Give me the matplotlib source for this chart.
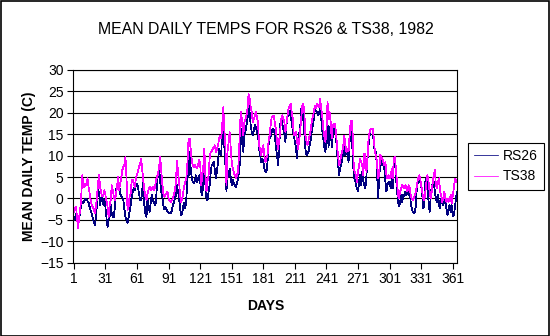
import matplotlib
matplotlib.use('Agg')
import matplotlib.pyplot as plt
from matplotlib.patches import Rectangle

plt.rcParams['font.family'] = ['Liberation Sans', 'DejaVu Sans']

# mean daily temperature (C), one value per day of 1982
rs26 = [
    -5.0, -4.8, -3.5, -4.2, -5.8, -5.0, -3.0, -1.5, -0.8, -1.2,
    -0.5, 0.0, -0.3, -0.6, -1.0, -2.0, -2.8, -3.5, -4.5, -5.5,
    -6.2, -4.5, -1.0, 1.9, 1.2, -1.5, 0.2, 0.8, -1.5, -0.3,
    -2.0, -4.5, -6.6, -5.0, -4.2, -1.5, -3.5, -4.3, -4.3, -2.0,
    1.9, 2.7, 3.0, 3.5, 1.2, 0.5, 0.2, -0.3, -2.5, -4.2,
    -5.0, -5.8, -4.5, -3.0, -1.5, 0.2, 1.5, 2.5, 2.0, 3.0,
    3.5, 2.5, 1.0, -0.5, -0.4, 2.0, 3.9, -1.5, -3.5, -4.3,
    0.0, -1.6, -3.1, -1.0, 0.8, -0.5, -0.8, -1.6, -1.0, 3.5,
    5.8, 7.0, 4.0, 1.6, 0.5, -1.5, -2.5, -2.0, -2.5, -3.0,
    -3.3, -3.5, -3.4, -3.0, -1.6, -1.0, 0.0, 0.8, 3.1, 1.5,
    0.0, -2.5, -3.9, -3.5, -1.6, -1.0, -2.3, 0.5, 5.4, 5.0,
    10.9, 7.0, 5.0, 3.9, 3.5, 4.0, 5.4, 3.9, 4.5, 5.4,
    4.0, 1.6, 0.8, 3.9, 7.8, 3.1, 0.0, -0.4, 1.5, 3.1,
    6.0, 7.8, 8.1, 8.5, 6.5, 4.7, 6.5, 8.5, 11.6, 10.5,
    10.1, 16.3, 16.7, 12.0, 7.8, 1.6, 6.2, 5.0, 7.0, 5.0,
    3.1, 4.3, 3.5, 3.1, 2.7, 3.5, 4.7, 6.2, 9.3, 16.3,
    14.0, 10.9, 14.7, 15.5, 17.1, 18.6, 21.7, 20.2, 17.1, 15.5,
    14.7, 16.0, 17.1, 16.7, 15.5, 14.7, 11.6, 10.0, 8.5, 9.3,
    8.5, 7.0, 6.2, 6.2, 8.5, 12.4, 14.0, 14.5, 15.5, 16.3,
    16.0, 14.7, 12.0, 10.1, 7.8, 10.9, 17.1, 18.6, 17.5, 16.3,
    15.0, 13.2, 17.1, 19.0, 20.2, 20.5, 19.0, 17.8, 16.0, 14.7,
    13.2, 12.0, 9.3, 14.0, 15.0, 16.3, 20.9, 21.3, 18.6, 15.0,
    11.6, 10.1, 10.5, 10.9, 12.4, 13.5, 15.5, 17.0, 18.6, 20.9,
    20.5, 20.2, 19.4, 20.0, 20.9, 18.6, 16.0, 14.0, 12.0, 10.9,
    13.0, 17.8, 12.0, 16.3, 17.1, 12.0, 14.7, 17.1, 15.5, 14.7,
    10.9, 8.0, 5.4, 7.0, 7.8, 9.3, 10.9, 12.4, 10.1, 10.9,
    10.1, 8.5, 13.2, 16.3, 14.7, 10.0, 4.7, 4.7, 3.0, 2.3,
    1.6, 3.9, 5.4, 3.1, 6.2, 4.0, 3.1, 2.3, 5.4, 9.3,
    12.4, 14.7, 16.3, 16.3, 16.3, 12.4, 10.9, 10.9, 7.0, 0.0,
    3.9, 8.5, 9.3, 7.8, 8.5, 7.0, 3.9, 1.6, 3.1, 3.9,
    3.9, 2.3, 4.7, 2.3, 8.5, 9.3, 5.0, 2.0, -0.8, -1.9,
    -1.0, 0.8, -0.8, 0.8, 0.5, 1.6, 0.8, 2.3, 0.8, 2.3,
    -0.8, -2.3, -3.1, -3.5, -3.1, -1.6, 3.1, 3.9, 4.7, 3.9,
    3.1, 0.8, -2.3, -1.6, 3.9, 4.7, 2.3, -0.8, -3.1, 0.0,
    3.1, 3.1, 3.9, 1.6, 0.0, -0.8, 0.8, -1.6, -2.3, 0.0,
    -0.8, -1.6, 0.0, -0.8, -2.3, -3.9, -2.3, -1.6, -3.1, -1.6,
    -4.2, -3.9, -2.3, 0.0, 1.6,
]

ts38 = [
    -3.1, -2.5, -1.9, -4.3, -7.0, -4.5, -2.7, 0.4, 5.4, 3.5,
    2.7, 3.5, 3.1, 4.7, 2.7, 1.2, -0.4, -1.6, -1.9, -2.5,
    -3.5, -1.9, 0.5, 3.5, 5.4, 2.7, 1.2, 0.5, 0.8, 1.9,
    0.8, -0.5, -1.9, -4.3, -1.6, -0.4, 3.1, 1.9, 0.4, -0.4,
    1.0, 2.7, 5.0, 1.9, 3.5, 4.7, 6.6, 7.4, 8.0, 9.7,
    5.0, -2.7, -1.9, 0.4, 1.2, 4.3, 4.3, 3.5, 2.7, 5.0,
    5.5, 6.6, 7.4, 8.0, 9.3, 6.6, 4.0, 1.9, 0.5, -0.4,
    1.2, 2.0, 2.7, 1.9, 2.2, 2.7, 1.9, 2.5, 4.3, 5.0,
    5.8, 7.4, 9.7, 6.6, 3.5, 1.2, 0.4, 0.8, 1.2, 1.6,
    0.0, -0.5, -0.8, -0.5, 0.0, 0.8, 2.0, 3.9, 8.9, 6.0,
    3.9, 0.5, -0.8, 0.0, 1.5, 3.1, 3.9, 5.0, 8.5, 14.0,
    14.0, 11.6, 9.0, 7.8, 7.4, 7.8, 7.4, 7.0, 8.0, 8.9,
    8.5, 3.1, 5.5, 7.4, 11.6, 5.4, 1.6, 4.0, 5.4, 9.3,
    10.9, 11.0, 11.6, 12.0, 12.4, 10.9, 11.5, 12.4, 14.0, 14.7,
    14.0, 17.1, 21.3, 16.0, 12.4, 3.1, 10.9, 13.0, 15.5, 12.0,
    8.5, 7.0, 6.0, 5.4, 4.7, 5.5, 6.2, 10.9, 17.8, 20.2,
    17.0, 14.7, 17.8, 18.5, 19.4, 20.9, 24.4, 23.3, 21.5, 20.2,
    17.8, 18.5, 19.4, 20.2, 19.0, 17.8, 12.4, 11.5, 10.1, 11.6,
    12.4, 10.0, 8.5, 9.5, 10.1, 13.5, 14.7, 17.1, 19.0, 19.2,
    19.4, 17.5, 16.3, 13.2, 11.6, 13.5, 15.5, 18.6, 19.4, 18.6,
    17.8, 15.5, 17.5, 19.4, 21.0, 21.7, 22.1, 20.2, 18.6, 14.7,
    15.0, 15.5, 13.5, 11.6, 13.5, 15.5, 18.6, 21.7, 22.1, 20.2,
    14.7, 13.5, 12.4, 13.6, 14.7, 16.0, 17.8, 19.0, 20.2, 21.7,
    21.0, 22.1, 21.7, 21.3, 23.3, 21.0, 19.4, 16.3, 14.5, 13.2,
    16.0, 22.5, 18.6, 20.2, 17.8, 14.0, 17.1, 17.4, 17.4, 15.5,
    12.4, 10.1, 7.8, 8.5, 10.1, 10.9, 12.4, 14.7, 12.4, 10.9,
    11.5, 11.0, 14.7, 17.8, 18.2, 14.7, 7.0, 6.2, 5.4, 3.9,
    6.2, 7.8, 9.3, 8.5, 7.8, 5.4, 10.5, 10.1, 6.2, 9.3,
    14.0, 15.5, 16.3, 16.3, 16.3, 14.0, 10.9, 10.1, 8.5, 4.7,
    5.4, 10.1, 9.7, 9.3, 8.5, 7.8, 8.5, 5.4, 4.7, 5.4,
    4.7, 5.0, 7.0, 4.7, 9.3, 9.7, 7.0, 3.9, 0.8, 0.0,
    1.6, 2.3, 3.1, 2.7, 2.3, 3.1, 2.3, 1.6, 3.1, 2.7,
    0.8, 0.0, -0.4, 0.0, 0.8, 1.6, 3.1, 4.7, 5.4, 4.7,
    3.1, 1.6, 0.0, -0.4, 1.6, 3.9, 5.4, 3.9, 1.6, 0.0,
    1.6, 3.9, 5.4, 6.6, 3.1, 2.3, 3.9, 4.7, 1.6, 0.8,
    -0.8, 0.0, 1.6, 0.0, -0.8, 0.0, -0.8, -0.4, 0.8, -1.2,
    0.8, 2.3, 4.6, 3.9, 4.3,
]

days = list(range(1, len(rs26) + 1))
x_ticks = list(range(1, 362, 30))
y_ticks = list(range(-15, 31, 5))

fig = plt.figure(figsize=(5.5, 3.36), dpi=100)
fig.patches.append(Rectangle((0.001, 0.001), 0.997, 0.996, transform=fig.transFigure,
                             fill=False, edgecolor='black', linewidth=1.2))

ax = fig.add_axes([0.1333, 0.2182, 0.6985, 0.5735])
ax.plot(days, rs26, color='#000080', linewidth=0.55, label='RS26', antialiased=False)
ax.plot(days, ts38, color='#FF00FF', linewidth=0.55, label='TS38', antialiased=False)

ax.set_xlim(0.5, 365.5)
ax.set_ylim(-15, 30)
ax.set_xticks(x_ticks)
ax.set_yticks(y_ticks)
ax.tick_params(axis='both', direction='out', length=4, width=0.8, labelsize=10, pad=3)
ax.yaxis.grid(True, color='black', linewidth=0.8)
ax.set_axisbelow(True)
for side in ax.spines.values():
    side.set_linewidth(0.8)
    side.set_color('black')

ax.set_title('MEAN DAILY TEMPS FOR RS26 & TS38, 1982', fontsize=11.4, pad=26)
ax.set_xlabel('DAYS', fontsize=10, fontweight='bold', labelpad=9)
ax.set_ylabel('MEAN DAILY TEMP (C)', fontsize=10, fontweight='bold', labelpad=3)

ax.legend(loc='upper left', bbox_to_anchor=(468 / 550, 1 - 143 / 336),
          bbox_transform=fig.transFigure, fontsize=10, frameon=True, fancybox=False,
          edgecolor='black', framealpha=1, handlelength=1.7, handletextpad=0.35,
          labelspacing=0.45, borderpad=0.45, borderaxespad=0)
ax.get_legend().get_frame().set_linewidth(0.8)

fig.savefig('out.png', dpi=100)
